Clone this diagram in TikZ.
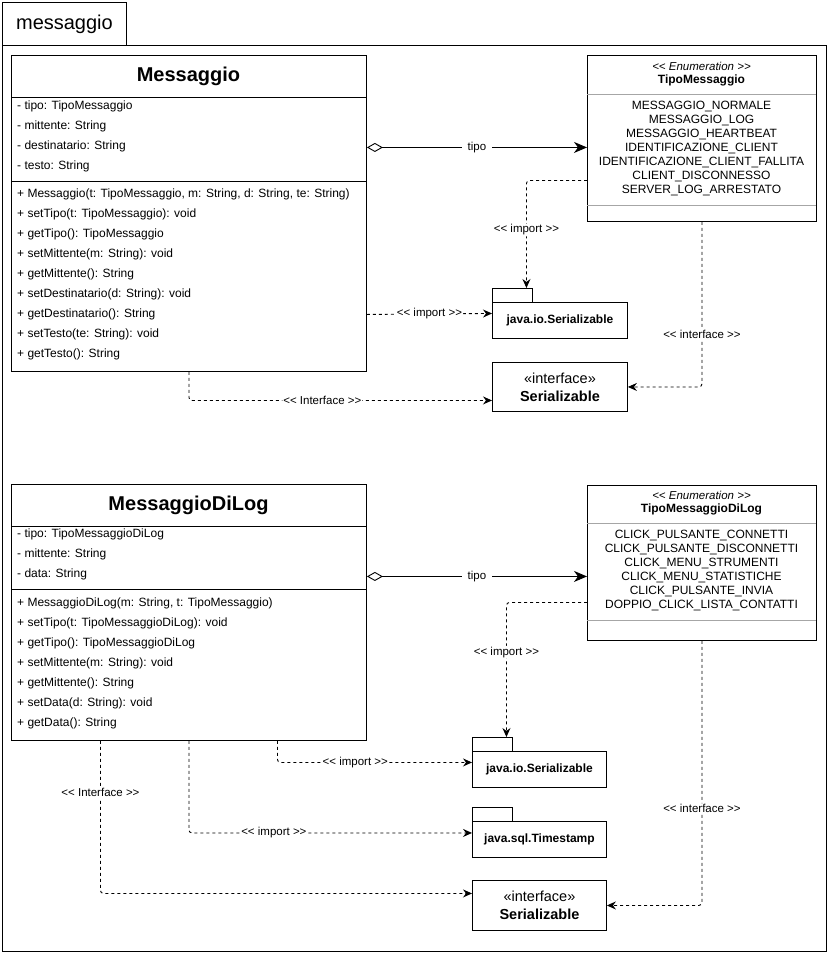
\documentclass[tikz,border=0pt]{standalone}
\usepackage{fontspec}
\setmainfont{Liberation Sans}
\usetikzlibrary{arrows.meta}
\newcommand{\stereo}[1]{<{}< #1 >{}>}

\begin{document}
\begin{tikzpicture}[x=1pt, y=-1pt,
    box/.style={draw, line width=0.9pt, inner sep=0pt, anchor=north west},
    member/.style={anchor=west, inner sep=0pt, font=\fontsize{12}{14}\selectfont},
    literal/.style={inner sep=0pt, font=\fontsize{12}{14}\selectfont},
    classname/.style={inner sep=0pt, font=\bfseries\fontsize{20}{24}\selectfont},
    divider/.style={line width=0.9pt},
    dep/.style={line width=0.9pt, dash pattern=on 3pt off 3pt, rounded corners=3pt,
        -{Stealth[length=9pt, width=8pt, inset=3pt]}},
    agg/.style={line width=0.9pt,
        {Diamond[open, length=16pt, width=9pt]}-{Stealth[length=13pt, width=11pt, inset=4pt]}},
    lbl/.style={fill=white, inner sep=1pt, font=\fontsize{11.5}{13}\selectfont}]
	\useasboundingbox (0,0) rectangle (829,954);

	% package frame
	\draw[line width=0.9pt] (2,45) rectangle (826,951);
	\node[box, minimum width=124pt, minimum height=43pt, font=\fontsize{20}{24}\selectfont] (pkgtab) at (2,2) {messaggio};

	% Messaggio
	\node[box, minimum width=355pt, minimum height=316pt] (msg) at (11,55) {};
	\node[classname] (msgname) at (188.5,76) {Messaggio};
	\draw[divider] (11,97) -- (366,97) (11,181) -- (366,181);
	\foreach \t [count=\i] in {- tipo: TipoMessaggio, - mittente: String, - destinatario: String, - testo: String}
		\node[member] (msgattr\i) at (17,{86+20*\i}) {\t};
	\foreach \t [count=\i] in {{+ Messaggio(t: TipoMessaggio, m: String, d: String, te: String)},
			+ setTipo(t: TipoMessaggio): void, + getTipo(): TipoMessaggio,
			+ setMittente(m: String): void, + getMittente(): String,
			+ setDestinatario(d: String): void, + getDestinatario(): String,
			+ setTesto(te: String): void, + getTesto(): String}
		\node[member] (msgop\i) at (17,{174+20*\i}) {\t};

	% TipoMessaggio
	\node[box, minimum width=229pt, minimum height=166pt] (tm) at (587,55) {};
	\node[literal, font=\itshape\fontsize{11.5}{13}\selectfont] (tmster) at (701.5,66) {\stereo{Enumeration}};
	\node[literal, font=\bfseries\fontsize{12}{14}\selectfont] (tmname) at (701.5,80) {TipoMessaggio};
	\draw[divider, gray!70] (587,94) -- (816,94) (587,205) -- (816,205);
	\foreach \t [count=\i] in {MESSAGGIO\_NORMALE, MESSAGGIO\_LOG, MESSAGGIO\_HEARTBEAT,
			IDENTIFICAZIONE\_CLIENT, IDENTIFICAZIONE\_CLIENT\_FALLITA, CLIENT\_DISCONNESSO,
			SERVER\_LOG\_ARRESTATO}
		\node[literal] (tmlit\i) at (701.5,{92+14*\i}) {\t};

	\node[box, minimum width=135pt, minimum height=36pt, font=\bfseries\fontsize{12}{14}\selectfont] (pio) at (492,302) {java.io.Serializable};
	\node[box, minimum width=40pt, minimum height=14pt] (piotab) at (492,288) {};
	\node[box, minimum width=135pt, minimum height=49pt, align=center, font=\fontsize{14.5}{18}\selectfont] (ser) at (492,362) {«interface»\\\textbf{Serializable}};

	\draw[agg] ([yshift=66pt]msg.east) -- node[lbl, inner xsep=6pt] (tipoa) {tipo} ([yshift=-9pt]tm.west);
	\draw[dep] ([yshift=-101pt]msg.east) -- node[lbl] (impa) {\stereo{import}} ([yshift=7pt]pio.west);
	\draw[dep] ([yshift=-42pt]tm.west) -| node[lbl, pos=0.73] (impb) {\stereo{import}} ([xshift=14pt]piotab.north);
	\draw[dep] (tm.south) |- node[lbl, pos=0.34] (intfa) {\stereo{interface}} (ser.east);
	\draw[dep] (msg.south) |- node[lbl, pos=0.72] (intfb) {\stereo{Interface}} ([yshift=-13.5pt]ser.west);

	% MessaggioDiLog
	\node[box, minimum width=355pt, minimum height=256pt] (mdl) at (11,484) {};
	\node[classname] (mdlname) at (188.5,505) {MessaggioDiLog};
	\draw[divider] (11,526) -- (366,526) (11,589) -- (366,589);
	\foreach \t [count=\i] in {- tipo: TipoMessaggioDiLog, - mittente: String, - data: String}
		\node[member] (mdlattr\i) at (17,{514+20*\i}) {\t};
	\foreach \t [count=\i] in {{+ MessaggioDiLog(m: String, t: TipoMessaggio)},
			+ setTipo(t: TipoMessaggioDiLog): void, + getTipo(): TipoMessaggioDiLog,
			+ setMittente(m: String): void, + getMittente(): String,
			+ setData(d: String): void, + getData(): String}
		\node[member] (mdlop\i) at (17,{583+20*\i}) {\t};

	% TipoMessaggioDiLog
	\node[box, minimum width=229pt, minimum height=155pt] (tml) at (587,485) {};
	\node[literal, font=\itshape\fontsize{11.5}{13}\selectfont] (tmlster) at (701.5,495) {\stereo{Enumeration}};
	\node[literal, font=\bfseries\fontsize{12}{14}\selectfont] (tmlname) at (701.5,509) {TipoMessaggioDiLog};
	\draw[divider, gray!70] (587,523) -- (816,523) (587,620) -- (816,620);
	\foreach \t [count=\i] in {CLICK\_PULSANTE\_CONNETTI, CLICK\_PULSANTE\_DISCONNETTI,
			CLICK\_MENU\_STRUMENTI, CLICK\_MENU\_STATISTICHE, CLICK\_PULSANTE\_INVIA,
			DOPPIO\_CLICK\_LISTA\_CONTATTI}
		\node[literal] (tmllit\i) at (701.5,{521+14*\i}) {\t};

	\node[box, minimum width=134pt, minimum height=36pt, font=\bfseries\fontsize{12}{14}\selectfont] (pio2) at (472,751) {java.io.Serializable};
	\node[box, minimum width=40pt, minimum height=14pt] (pio2tab) at (472,737) {};
	\node[box, minimum width=134pt, minimum height=36pt, font=\bfseries\fontsize{12}{14}\selectfont] (ts) at (472,821) {java.sql.Timestamp};
	\node[box, minimum width=40pt, minimum height=14pt] (tstab) at (472,807) {};
	\node[box, minimum width=134pt, minimum height=50pt, align=center, font=\fontsize{14.5}{18}\selectfont] (ser2) at (472,880) {«interface»\\\textbf{Serializable}};

	\draw[agg] ([yshift=36pt]mdl.east) -- node[lbl, inner xsep=6pt] (tipob) {tipo} ([yshift=-13.5pt]tml.west);
	\draw[dep] ([yshift=-39.5pt]tml.west) -| node[lbl, pos=0.685] (impc) {\stereo{import}} ([xshift=14pt]pio2tab.north);
	\draw[dep] (tml.south) |- node[lbl, pos=0.317] (intfc) {\stereo{interface}} (ser2.east);
	\draw[dep] ([xshift=88.5pt]mdl.south) |- node[lbl, pos=0.7] (impd) {\stereo{import}} ([yshift=7pt]pio2.west);
	\draw[dep] (mdl.south) |- node[lbl, pos=0.65] (impe) {\stereo{import}} ([yshift=6.5pt]ts.west);
	\draw[dep] ([xshift=-88.5pt]mdl.south) |- node[lbl, pos=0.17] (intfd) {\stereo{Interface}} ([yshift=12pt]ser2.west);
\end{tikzpicture}
\end{document}
